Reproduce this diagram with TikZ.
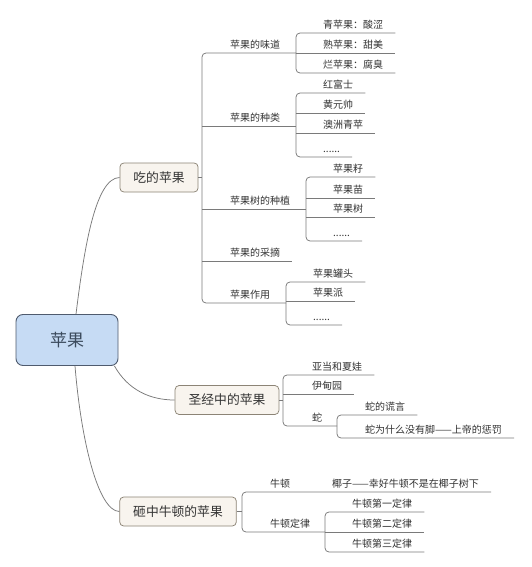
\documentclass[tikz,border=0pt]{standalone}
\usepackage{fontspec}
\setmainfont{Noto Sans CJK SC}
\usepackage{tikz}
\definecolor{linegray}{HTML}{7A7A7A}
\definecolor{txtgray}{HTML}{333333}
\definecolor{topicfill}{HTML}{F8F4EE}
\definecolor{topicdraw}{HTML}{8C8476}
\definecolor{rootfill}{HTML}{C6DBF4}
\definecolor{rootdraw}{HTML}{4F5B6E}
\definecolor{roottext}{HTML}{3B4A5C}
\tikzset{
  branch/.style  = {linegray,line width=0.75pt,rounded corners=4pt},
  leaf/.style    = {anchor=south west,inner xsep=0pt,inner ysep=4pt,text height=8pt,text depth=0pt,
                    font=\fontsize{10}{12}\selectfont,text=txtgray},
  topic/.style   = {draw=topicdraw,fill=topicfill,rounded corners=4pt,line width=0.75pt,minimum height=29pt,
                    inner xsep=13.5pt,font=\fontsize{12.8}{14}\selectfont,text=txtgray},
  rootbox/.style = {draw=rootdraw,fill=rootfill,rounded corners=7pt,line width=0.9pt,minimum width=102pt,
                    minimum height=51pt,font=\fontsize{17}{20}\selectfont,text=roottext}
}
\newcommand{\tip}[1]{([xshift=12pt]#1.south east)}

\begin{document}
\begin{tikzpicture}[x=1pt,y=-1pt]
  \useasboundingbox[fill=white] (0,0) rectangle (532,567);
  \node[rootbox] (apple) at (67,340) {苹果};
  \node[topic] (eat)    at (159,177.5) {吃的苹果};
  \node[topic] (bible)  at (227,400)   {圣经中的苹果};
  \node[topic] (newton) at (178,511.5) {砸中牛顿的苹果};
  \draw[branch] ([xshift=9pt]apple.north) .. controls (84,250) and (95,178) .. (eat.west);
  \draw[branch] ([xshift=-4pt]apple.south east) .. controls (128,390) and (150,400) .. (bible.west);
  \draw[branch] ([xshift=8pt]apple.south) .. controls (81,440) and (98,511) .. (newton.west);

  \node[leaf] (taste) at (230,53)  {苹果的味道};
  \node[leaf] (kind)  at (230,126) {苹果的种类};
  \node[leaf] (grow)  at (230,209) {苹果树的种植};
  \node[leaf] (pick)  at (230,261) {苹果的采摘};
  \node[leaf] (use)   at (230,303) {苹果作用};
  \coordinate (b-eat)   at (202,177.5);
  \coordinate (b-taste) at (296,53);
  \coordinate (b-kind)  at (296,126);
  \coordinate (b-grow)  at (306,209);
  \coordinate (b-use)   at (286,303);
  \draw[branch] (eat.east) -- (b-eat);
  \draw[branch] (b-taste) -| (b-eat) |- (b-use);
  \draw[branch] (kind.south -| b-eat) -- (b-kind);
  \draw[branch] (grow.south -| b-eat) -- (b-grow);
  \draw[branch] (pick.south -| b-eat) -- \tip{pick};

  \node[leaf] (qing) at (323,33) {青苹果：酸涩};
  \node[leaf] (shu)  at (323,53) {熟苹果：甜美};
  \node[leaf] (lan)  at (323,73) {烂苹果：腐臭};
  \draw[branch] \tip{qing} -| (b-taste) |- \tip{lan};
  \draw[branch] (b-taste) -- \tip{shu};

  \node[leaf] (fuji)      at (323,93)  {红富士};
  \node[leaf] (huang)     at (323,113) {黄元帅};
  \node[leaf] (aozhou)    at (323,133) {澳洲青苹};
  \node[leaf] (kind-more) at (323,157) {......};
  \draw[branch] \tip{fuji} -| (b-kind) |- \tip{kind-more};
  \draw[branch] (huang.south -| b-kind) -- \tip{huang};
  \draw[branch] (aozhou.south -| b-kind) -- \tip{aozhou};

  \node[leaf] (seed)      at (333,177) {苹果籽};
  \node[leaf] (sprout)    at (333,198) {苹果苗};
  \node[leaf] (tree)      at (333,217) {苹果树};
  \node[leaf] (grow-more) at (333,241) {......};
  \draw[branch] \tip{seed} -| (b-grow) |- \tip{grow-more};
  \draw[branch] (sprout.south -| b-grow) -- \tip{sprout};
  \draw[branch] (tree.south -| b-grow) -- \tip{tree};

  \node[leaf] (can)      at (313,282) {苹果罐头};
  \node[leaf] (pie)      at (313,301) {苹果派};
  \node[leaf] (use-more) at (313,325) {......};
  \draw[branch] \tip{can} -| (b-use) |- \tip{use-more};
  \draw[branch] (pie.south -| b-use) -- \tip{pie};

  \coordinate (b-bible) at (283,400);
  \coordinate (b-snake) at (337,426);
  \node[leaf] (adam)   at (312,375) {亚当和夏娃};
  \node[leaf] (eden)   at (312,394) {伊甸园};
  \node[leaf] (snake)  at (312,426) {蛇};
  \node[leaf] (lie)    at (365,415) {蛇的谎言};
  \node[leaf] (nofeet) at (365,438) {蛇为什么没有脚——上帝的惩罚};
  \draw[branch] (bible.east) -- (b-bible);
  \draw[branch] \tip{adam} -| (b-bible) |- (b-snake);
  \draw[branch] (eden.south -| b-bible) -- \tip{eden};
  \draw[branch] \tip{lie} -| (b-snake) |- \tip{nofeet};

  \coordinate (b-newton) at (242,511.5);
  \coordinate (b-law)    at (325,532);
  \node[leaf] (nt)      at (270,492) {牛顿};
  \node[leaf] (coconut) at (332,492) {椰子——幸好牛顿不是在椰子树下};
  \node[leaf] (law)     at (270,532) {牛顿定律};
  \node[leaf] (law1)    at (352,512) {牛顿第一定律};
  \node[leaf] (law2)    at (352,532) {牛顿第二定律};
  \node[leaf] (law3)    at (352,552) {牛顿第三定律};
  \draw[branch] (newton.east) -- (b-newton);
  \draw[branch] \tip{coconut} -| (b-newton) |- (b-law);
  \draw[branch] \tip{law1} -| (b-law) |- \tip{law3};
  \draw[branch] (b-law) -- \tip{law2};
\end{tikzpicture}
\end{document}
